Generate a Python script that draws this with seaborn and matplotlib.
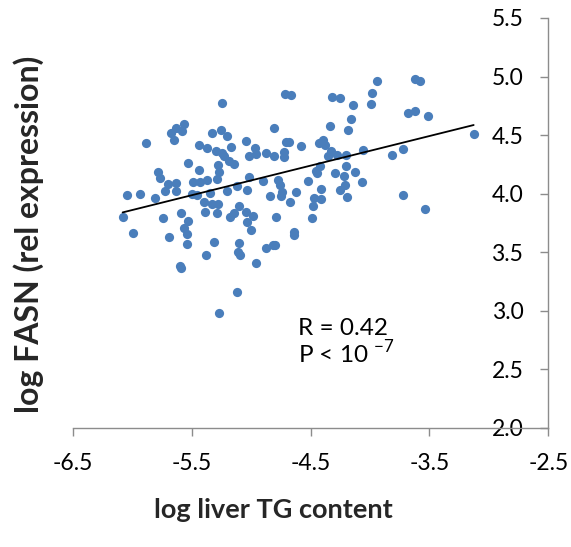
import matplotlib
matplotlib.use("Agg")
import matplotlib.pyplot as plt
import seaborn as sns
import numpy as np
import pandas as pd

# log liver TG content
tg = [-6.080, -6.044, -5.996, -5.931, -5.883, -5.810, -5.782, -5.762, -5.737, -5.720,
      -5.700, -5.686, -5.677, -5.644, -5.635, -5.630, -5.630, -5.590, -5.601, -5.585,
      -5.582, -5.562, -5.565, -5.534, -5.539, -5.539, -5.531, -5.500, -5.489, -5.455,
      -5.438, -5.438, -5.432, -5.393, -5.390, -5.382, -5.370, -5.370, -5.348, -5.325,
      -5.325, -5.308, -5.292, -5.285, -5.285, -5.280, -5.275, -5.272, -5.269, -5.255,
      -5.244, -5.241, -5.224, -5.204, -5.201, -5.186, -5.179, -5.165, -5.145, -5.142,
      -5.120, -5.120, -5.106, -5.100, -5.100, -5.089, -5.044, -5.041, -5.038, -5.032,
      -5.021, -5.015, -4.999, -4.987, -4.970, -4.959, -4.956, -4.897, -4.875, -4.872,
      -4.838, -4.818, -4.804, -4.807, -4.796, -4.793, -4.773, -4.759, -4.748, -4.739,
      -4.727, -4.725, -4.711, -4.706, -4.677, -4.672, -4.663, -4.641, -4.641, -4.618,
      -4.576, -4.523, -4.489, -4.480, -4.472, -4.458, -4.444, -4.430, -4.424, -4.415,
      -4.410, -4.396, -4.379, -4.352, -4.339, -4.327, -4.317, -4.294, -4.277, -4.255,
      -4.255, -4.221, -4.213, -4.204, -4.204, -4.190, -4.183, -4.161, -4.142, -4.125,
      -4.063, -4.058, -3.990, -3.985, -3.939, -3.815, -3.725, -3.720, -3.680, -3.624,
      -3.618, -3.579, -3.539, -3.511, -3.128]

# log FASN (rel expression)
fasn = [3.804, 3.986, 3.665, 4.000, 4.435, 3.960, 4.185, 4.131, 3.793, 4.020,
        4.082, 3.631, 4.520, 4.460, 4.563, 4.091, 4.023, 3.835, 3.381, 3.367,
        4.534, 4.591, 3.707, 3.764, 3.656, 3.574, 4.261, 4.000, 4.102, 3.991,
        4.202, 4.415, 4.097, 3.926, 3.847, 3.480, 4.392, 4.119, 4.006, 4.517,
        3.915, 3.585, 4.361, 4.128, 3.835, 3.912, 4.244, 2.983, 4.188, 4.543,
        4.773, 4.347, 4.318, 4.491, 4.026, 4.276, 3.801, 4.395, 4.253, 3.835,
        4.063, 3.165, 3.506, 3.892, 3.580, 3.474, 4.446, 3.844, 4.034, 3.759,
        4.139, 4.318, 3.693, 3.813, 4.386, 4.338, 3.412, 4.105, 4.347, 3.537,
        3.983, 3.560, 4.557, 4.324, 3.565, 3.804, 4.119, 4.074, 3.983, 4.014,
        4.352, 4.312, 4.852, 4.440, 4.440, 3.929, 4.841, 3.676, 3.648, 4.014,
        4.409, 4.111, 3.795, 3.898, 3.963, 4.190, 4.173, 4.432, 4.239, 3.957,
        4.043, 4.460, 4.412, 4.318, 4.580, 4.361, 4.827, 4.176, 4.327, 4.821,
        4.028, 4.148, 4.074, 4.332, 4.233, 3.969, 4.545, 4.636, 4.753, 4.182,
        4.099, 4.375, 4.767, 4.861, 4.960, 4.327, 4.381, 3.986, 4.693, 4.702,
        4.980, 4.966, 3.872, 4.665, 4.511]

x_ticks = [-6.5, -5.5, -4.5, -3.5, -2.5]
y_ticks = [2.0, 2.5, 3.0, 3.5, 4.0, 4.5, 5.0, 5.5]
x_label = "log liver TG content"
y_label = "log FASN (rel expression)"
r_text = "R = 0.42"
p_text = r"P < 10 $^{\mathregular{-7}}$"

df = pd.DataFrame({"tg": tg, "fasn": fasn})

sns.set_theme(style="white")
plt.rcParams["font.family"] = ["Lato", "DejaVu Sans"]
plt.rcParams["axes.unicode_minus"] = False
plt.rcParams["mathtext.fontset"] = "custom"
plt.rcParams["mathtext.rm"] = "Lato"

fig = plt.figure(figsize=(5.71, 5.47), dpi=100)
ax = fig.add_axes([0.1273, 0.2176, 0.8330, 0.7495])

sns.scatterplot(data=df, x="tg", y="fasn", ax=ax, color="#4A7EBB",
                s=44, linewidth=0, alpha=1, zorder=3)
sns.regplot(data=df, x="tg", y="fasn", ax=ax, scatter=False, ci=None,
            truncate=True, line_kws={"color": "black", "linewidth": 1.3, "zorder": 4})

ax.set_xlim(-6.5, -2.5)
ax.set_ylim(2.0, 5.5)
ax.set_xticks(x_ticks)
ax.set_yticks(y_ticks)
ax.set_xticklabels([f"{v:.1f}" for v in x_ticks])
ax.set_yticklabels([f"{v:.1f}" for v in y_ticks])

axis_col = "#8C8C8C"
for s in ["top", "right"]:
    ax.spines[s].set_visible(False)
ax.spines["left"].set_position(("data", -2.5))
ax.spines["left"].set_color(axis_col)
ax.spines["bottom"].set_color(axis_col)
ax.spines["left"].set_linewidth(1.0)
ax.spines["bottom"].set_linewidth(1.0)
ax.tick_params(axis="both", direction="out", length=6, width=1.0, color=axis_col,
               labelcolor="black", labelsize=16.5)
ax.tick_params(axis="y", left=True, pad=12)
ax.tick_params(axis="x", bottom=True, pad=12)

ax.set_xlabel(x_label, fontsize=19.5, fontweight="bold")
ax.set_ylabel(y_label, fontsize=23, fontweight="bold")
ax.yaxis.label.set_verticalalignment("center")
ax.xaxis.set_label_coords(0.421, -0.171)
ax.yaxis.set_label_coords(-0.092, 0.473)

ax.text(-4.605, 2.794, r_text, fontsize=17.5, color="black", zorder=5)
ax.text(-4.605, 2.555, p_text, fontsize=17.5, color="black", zorder=5)

fig.savefig("out.png", dpi=100)
